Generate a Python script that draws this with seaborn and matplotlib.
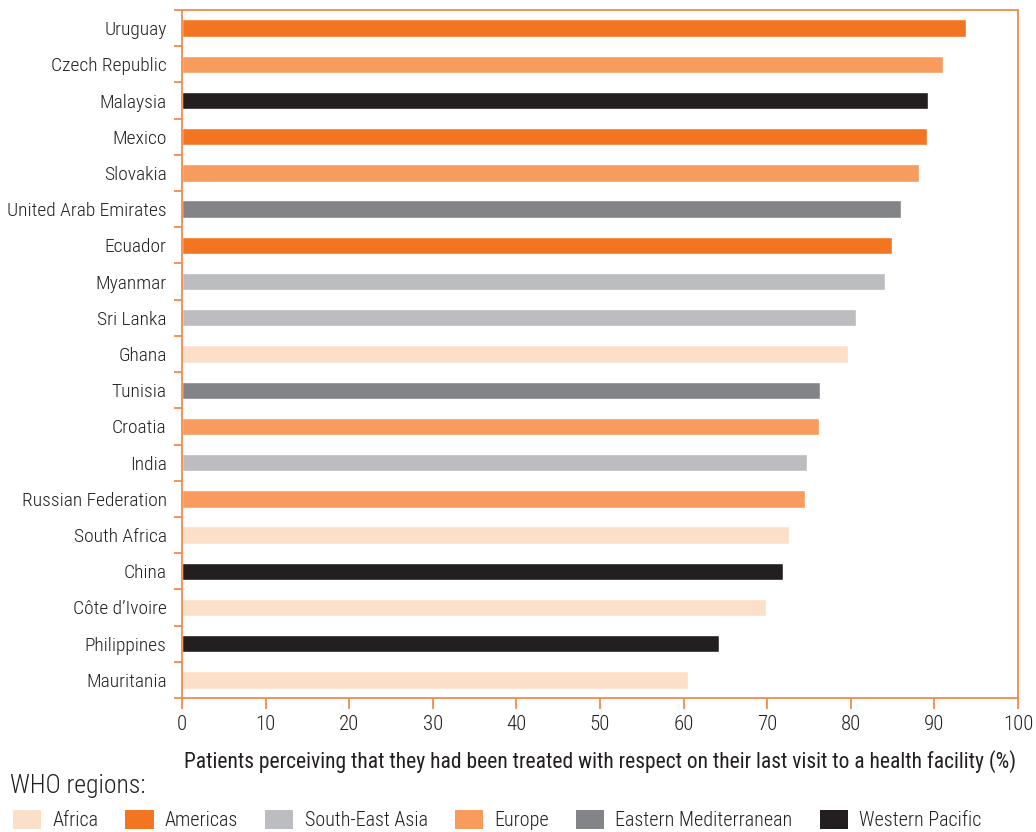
import matplotlib
matplotlib.use("Agg")
import matplotlib.pyplot as plt
import seaborn as sns
import pandas as pd
from matplotlib.patches import Patch
from matplotlib.ticker import FixedLocator

countries = ["Uruguay", "Czech Republic", "Malaysia", "Mexico", "Slovakia",
             "United Arab Emirates", "Ecuador", "Myanmar", "Sri Lanka", "Ghana",
             "Tunisia", "Croatia", "India", "Russian Federation", "South Africa",
             "China", "Côte d’Ivoire", "Philippines", "Mauritania"]
values = [93.8, 91.0, 89.2, 89.1, 88.1, 86.0, 84.9, 84.1, 80.6, 79.7,
          76.3, 76.2, 74.8, 74.5, 72.6, 71.9, 69.9, 64.2, 60.5]
regions = ["Americas", "Europe", "Western Pacific", "Americas", "Europe",
           "Eastern Mediterranean", "Americas", "South-East Asia", "South-East Asia", "Africa",
           "Eastern Mediterranean", "Europe", "South-East Asia", "Europe", "Africa",
           "Western Pacific", "Africa", "Western Pacific", "Africa"]
legend_order = ["Africa", "Americas", "South-East Asia", "Europe",
                "Eastern Mediterranean", "Western Pacific"]
region_colors = {"Africa": "#FCDFC8", "Americas": "#F47521", "South-East Asia": "#BCBDC0",
                 "Europe": "#F89C5E", "Eastern Mediterranean": "#838488",
                 "Western Pacific": "#231F20"}
xticks = [0, 10, 20, 30, 40, 50, 60, 70, 80, 90, 100]
xlabel = "Patients perceiving that they had been treated with respect on their last visit to a health facility (%)"

sns.set_theme(style="white")
plt.rcParams["font.family"] = ["Roboto Condensed", "DejaVu Sans"]
plt.rcParams["font.weight"] = "light"

df = pd.DataFrame({"country": countries, "value": values, "region": regions})

fig = plt.figure(figsize=(10.36, 8.32), dpi=100)
ax = fig.add_axes([182/1036, 1 - 698/832, (1018-182)/1036, (698-10)/832])

sns.barplot(data=df, x="value", y="country", hue="region", palette=region_colors,
            dodge=False, orient="h", width=0.48, legend=False, ax=ax, saturation=1)

orange = "#F58A4A"
text_col = "#231F20"
ax.set_xlim(0, 100)
ax.set_ylim(len(countries) - 0.5, -0.5)
ax.set_xticks(xticks)
ax.set_xticklabels([str(t) for t in xticks], fontsize=15, color=text_col)
ax.tick_params(axis="x", direction="out", length=8, width=1.3, color=orange, pad=4, bottom=True)
ax.tick_params(axis="y", which="major", length=0, pad=11, labelsize=14, labelcolor=text_col)
ax.yaxis.set_minor_locator(FixedLocator([i - 0.5 for i in range(len(countries) + 1)]))
ax.tick_params(axis="y", which="minor", direction="out", length=6, width=1.3, color=orange, left=True)
for s in ax.spines.values():
    s.set_color(orange)
    s.set_linewidth(1.3)
    s.set_visible(True)
ax.set_ylabel("")
ax.set_xlabel(xlabel, fontsize=15.5, color=text_col, labelpad=12)
ax.grid(False)

fig.text(10/1036, 1 - 786/832, "WHO regions:", fontsize=18.5, color=text_col, va="center", ha="left")

handles = [Patch(facecolor=region_colors[r], edgecolor="none", label=r) for r in legend_order]
fig.legend(handles=handles, loc="center left", bbox_to_anchor=(13/1036, 1 - 820/832), ncol=6,
           frameon=False, fontsize=14.5, handlelength=1.4, handleheight=1.1, handletextpad=0.55,
           columnspacing=1.35, labelcolor=text_col, borderaxespad=0, borderpad=0)

fig.savefig("out.png", dpi=100)
